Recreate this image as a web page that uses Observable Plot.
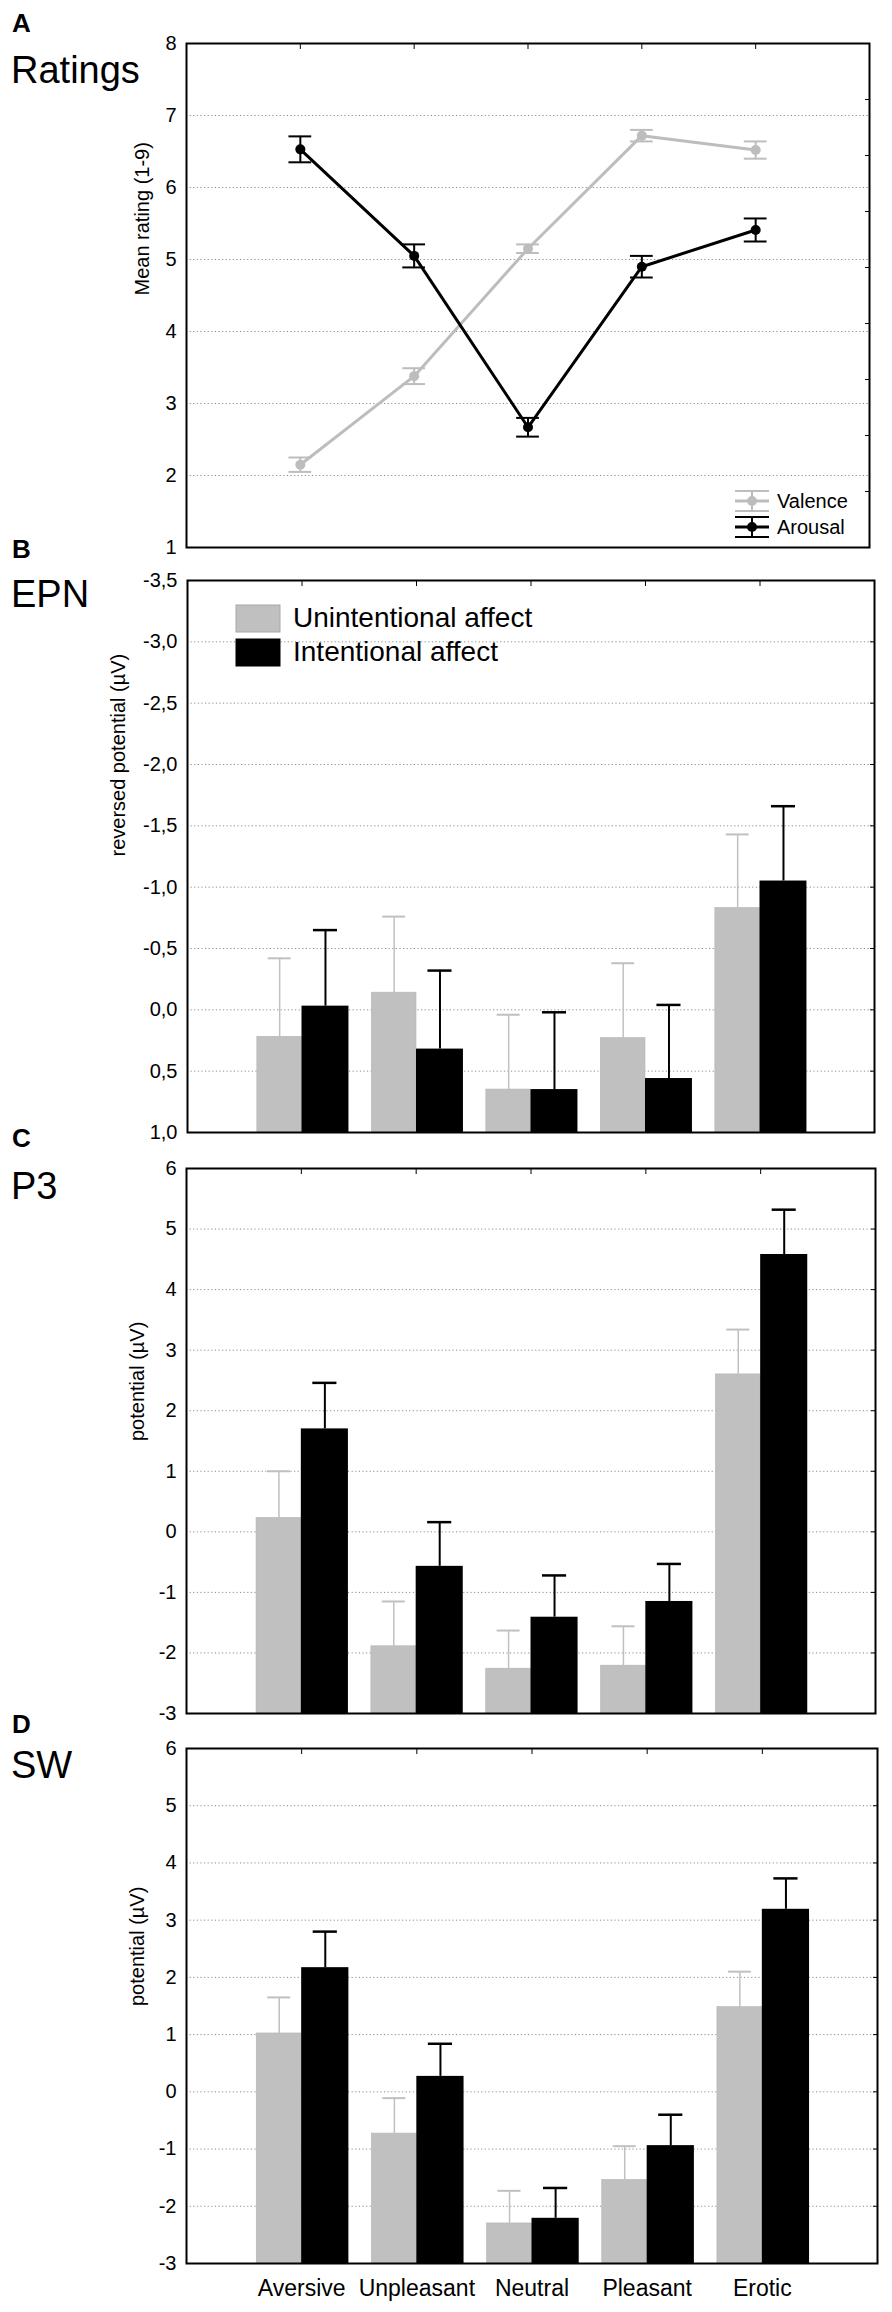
<!DOCTYPE html>
<html>
<head>
<meta charset="utf-8">
<script src="https://cdn.jsdelivr.net/npm/d3@7"></script>
<script src="https://cdn.jsdelivr.net/npm/@observablehq/plot@0.6"></script>
<style>
  body { margin: 0; background: #fff; }
  #wrap { position: relative; width: 892px; height: 2312px; font-family: "Liberation Sans", Arial, sans-serif; background: #fff; }
  #wrap > svg { position: absolute; left: 0; }
</style>
</head>
<body>
<div id="wrap"></div>
<script>
// ---------- data ----------
const categories = ["Aversive", "Unpleasant", "Neutral", "Pleasant", "Erotic"];

// Panel A: ratings
const valenceMean = [2.15, 3.38, 5.15, 6.72, 6.52];
const valenceSE   = [0.10, 0.11, 0.06, 0.08, 0.12];
const arousalMean = [6.53, 5.05, 2.67, 4.90, 5.41];
const arousalSE   = [0.18, 0.16, 0.13, 0.15, 0.16];

// Panel B: EPN (reversed potential, µV)
const epnUnintMean = [0.22, -0.14, 0.65, 0.23, -0.83];
const epnUnintSE   = [0.64, 0.62, 0.61, 0.61, 0.60];
const epnIntMean   = [-0.03, 0.32, 0.65, 0.56, -1.05];
const epnIntSE     = [0.62, 0.64, 0.63, 0.60, 0.61];

// Panel C: P3 (µV)
const p3UnintMean = [0.23, -1.89, -2.26, -2.21, 2.60];
const p3UnintSE   = [0.77, 0.74, 0.63, 0.65, 0.74];
const p3IntMean   = [1.70, -0.57, -1.41, -1.15, 4.58];
const p3IntSE     = [0.76, 0.73, 0.69, 0.62, 0.74];

// Panel D: SW (µV)
const swUnintMean = [1.02, -0.73, -2.30, -1.54, 1.48];
const swUnintSE   = [0.63, 0.62, 0.57, 0.59, 0.62];
const swIntMean   = [2.17, 0.27, -2.21, -0.94, 3.19];
const swIntSE     = [0.63, 0.57, 0.53, 0.54, 0.54];

// tick labels
const ratingTicks = [1, 2, 3, 4, 5, 6, 7, 8];
const epnTicks = [-3.5, -3.0, -2.5, -2.0, -1.5, -1.0, -0.5, 0.0, 0.5, 1.0];
const potTicks = [-3, -2, -1, 0, 1, 2, 3, 4, 5, 6];

// ---------- helpers ----------
const wrap = document.getElementById("wrap");
const FONT = "Liberation Sans, Arial, sans-serif";
const GRAY = "#c0c0c0";
const commaFmt = d3.formatLocale({decimal: ",", thousands: ".", grouping: [3], currency: ["", ""], minus: "-"}).format(".1f");
const intFmt = d => String(d);
const catIdx = categories.map((c, k) => k + 1);

function place(svg, top) {
  svg.style.top = top + "px";
  wrap.appendChild(svg);
}

function gridMarks(ticks) {
  const inner = ticks.slice(1, -1);
  return [
    Plot.gridY(inner, {stroke: "#8c8c8c", strokeOpacity: 1, strokeWidth: 1, strokeDasharray: "1.2,2.4"})
  ];
}

// ---------- Panel A ----------
{
  const val = categories.map((c, k) => ({i: k + 1, m: valenceMean[k], se: valenceSE[k]}));
  const aro = categories.map((c, k) => ({i: k + 1, m: arousalMean[k], se: arousalSE[k]}));
  const rightTicks = d3.range(1, 9).map(k => 1 + k * 7 / 9);
  const seriesMarks = (data, color, lw) => [
    Plot.line(data, {x: "i", y: "m", stroke: color, strokeWidth: lw}),
    Plot.ruleX(data, {x: "i", y1: d => d.m - d.se, y2: d => d.m + d.se, stroke: color, strokeWidth: 2}),
    Plot.ruleY(data, {y: d => d.m + d.se, x1: d => d.i - 0.1, x2: d => d.i + 0.1, stroke: color, strokeWidth: 2}),
    Plot.ruleY(data, {y: d => d.m - d.se, x1: d => d.i - 0.1, x2: d => d.i + 0.1, stroke: color, strokeWidth: 2}),
    Plot.dot(data, {x: "i", y: "m", r: 5, fill: color})
  ];
  const svg = Plot.plot({
    width: 892, height: 560,
    marginTop: 43, marginBottom: 13, marginLeft: 186, marginRight: 23,
    style: {fontFamily: FONT, fontSize: "20px", color: "black", background: "transparent"},
    x: {domain: [0, 6], axis: null},
    y: {domain: [1, 8], axis: null},
    marks: [
      ...gridMarks(ratingTicks),
      Plot.axisY(ratingTicks, {anchor: "left", tickSize: 0, tickPadding: 10, tickFormat: intFmt, fontSize: 20, label: null}),
      Plot.axisY(rightTicks, {anchor: "right", tickSize: -5, tickFormat: () => "", label: null}),
      Plot.axisX(catIdx, {anchor: "top", tickSize: -5, tickFormat: () => "", label: null}),
      Plot.text(["Mean rating (1-9)"], {frameAnchor: "left", dx: -44, rotate: -90, fontSize: 20, fill: "black"}),
      ...seriesMarks(val, "#bdbdbd", 3),
      ...seriesMarks(aro, "black", 3),
      Plot.frame({stroke: "black", strokeWidth: 2})
    ]
  });
  place(svg, 0);
}

// ---------- bar panels ----------
function barPanel(o) {
  const rows = categories.map((c, k) => ({
    i: k + 1, u: o.unint[k], uSE: o.unintSE[k], t: o.inten[k], tSE: o.intenSE[k]
  }));
  const base = o.domain[0];
  const up = o.up;
  const gx = d => d.i - 0.195;
  const bx = d => d.i + 0.205;
  const marks = [
    ...gridMarks(o.ticks),
    Plot.axisY(o.ticks, {anchor: "left", tickSize: 0, tickPadding: 10, tickFormat: o.fmt, fontSize: 20, label: null}),
    Plot.axisY(o.ticks.slice(1, -1), {anchor: "right", tickSize: -5, tickFormat: () => "", label: null}),
    Plot.axisX(catIdx, {anchor: "top", tickSize: -5, tickFormat: () => "", label: null}),
    Plot.text([o.label], {frameAnchor: "left", dx: o.labelDx, rotate: -90, fontSize: 20, fill: "black"}),
    Plot.rectY(rows, {x1: d => d.i - 0.39, x2: d => d.i, y1: d => base, y2: "u", fill: GRAY, stroke: "#b4b4b4", strokeWidth: 0.6}),
    Plot.rectY(rows, {x1: d => d.i, x2: d => d.i + 0.41, y1: d => base, y2: "t", fill: "black"}),
    Plot.ruleX(rows, {x: gx, y1: "u", y2: d => d.u + up * d.uSE, stroke: GRAY, strokeWidth: 1.5}),
    Plot.ruleY(rows, {y: d => d.u + up * d.uSE, x1: d => gx(d) - 0.1, x2: d => gx(d) + 0.1, stroke: GRAY, strokeWidth: 2}),
    Plot.ruleX(rows, {x: bx, y1: "t", y2: d => d.t + up * d.tSE, stroke: "black", strokeWidth: 2}),
    Plot.ruleY(rows, {y: d => d.t + up * d.tSE, x1: d => bx(d) - 0.105, x2: d => bx(d) + 0.105, stroke: "black", strokeWidth: 2.5}),
    Plot.frame({stroke: "black", strokeWidth: 2})
  ];
  if (o.xLabels) {
    marks.push(Plot.axisX(catIdx, {anchor: "bottom", tickSize: 0, tickPadding: 16, tickFormat: i => categories[i - 1], fontSize: 23, label: null}));
  }
  const svg = Plot.plot({
    width: 892, height: o.height,
    marginTop: o.mt, marginBottom: o.mb, marginLeft: o.ml, marginRight: o.mr,
    style: {fontFamily: FONT, fontSize: "20px", color: "black", background: "transparent"},
    x: {domain: [0, 6], axis: null},
    y: {domain: o.domain, axis: null},
    marks
  });
  place(svg, o.top);
}

barPanel({
  top: 560, height: 590, mt: 20, mb: 18, ml: 187, mr: 18,
  domain: [1.0, -3.5], up: -1, ticks: epnTicks, fmt: commaFmt,
  unint: epnUnintMean, unintSE: epnUnintSE, inten: epnIntMean, intenSE: epnIntSE,
  label: "reversed potential (µV)", labelDx: -69
});
barPanel({
  top: 1150, height: 580, mt: 18, mb: 17, ml: 186, mr: 17,
  domain: [-3, 6], up: 1, ticks: potTicks, fmt: intFmt,
  unint: p3UnintMean, unintSE: p3UnintSE, inten: p3IntMean, intenSE: p3IntSE,
  label: "potential (µV)", labelDx: -49
});
barPanel({
  top: 1730, height: 582, mt: 18, mb: 49, ml: 186, mr: 15,
  domain: [-3, 6], up: 1, ticks: potTicks, fmt: intFmt,
  unint: swUnintMean, unintSE: swUnintSE, inten: swIntMean, intenSE: swIntSE,
  label: "potential (µV)", labelDx: -49, xLabels: true
});

// ---------- titles and legends (overlay) ----------
const NS = "http://www.w3.org/2000/svg";
const ov = document.createElementNS(NS, "svg");
ov.setAttribute("width", 892);
ov.setAttribute("height", 2312);
ov.style.cssText = "position:absolute;left:0;top:0;pointer-events:none";
ov.setAttribute("font-family", FONT);
function el(tag, attrs, text) {
  const e = document.createElementNS(NS, tag);
  for (const k in attrs) e.setAttribute(k, attrs[k]);
  if (text != null) e.textContent = text;
  ov.appendChild(e);
  return e;
}
const panelLetters = ["A", "B", "C", "D"];
const panelTitles = ["Ratings", "EPN", "P3", "SW"];
const letterY = [32, 558, 1147, 1733];
const titleY = [83, 607, 1199, 1778];
panelLetters.forEach((l, k) => {
  el("text", {x: 12, y: letterY[k], "font-size": 26, "font-weight": "bold", fill: "black"}, l);
  el("text", {x: 11, y: titleY[k], "font-size": 38, fill: "black"}, panelTitles[k]);
});

// legend A
const legA = [{name: "Valence", color: "#bdbdbd", y: 501}, {name: "Arousal", color: "black", y: 527}];
legA.forEach(s => {
  el("line", {x1: 735, x2: 769, y1: s.y, y2: s.y, stroke: s.color, "stroke-width": 3});
  el("line", {x1: 735, x2: 769, y1: s.y - 10, y2: s.y - 10, stroke: s.color, "stroke-width": 2});
  el("line", {x1: 735, x2: 769, y1: s.y + 10, y2: s.y + 10, stroke: s.color, "stroke-width": 2});
  el("line", {x1: 752, x2: 752, y1: s.y - 10, y2: s.y + 10, stroke: s.color, "stroke-width": 2});
  el("circle", {cx: 752, cy: s.y, r: 5, fill: s.color});
  el("text", {x: 777, y: s.y + 7, "font-size": 20, fill: "black"}, s.name);
});

// legend B
const legB = [{name: "Unintentional affect", color: GRAY, stroke: "#a8a8a8", y: 605}, {name: "Intentional affect", color: "black", stroke: "black", y: 639}];
legB.forEach(s => {
  el("rect", {x: 236, y: s.y, width: 44, height: 27, fill: s.color, stroke: s.stroke, "stroke-width": 1});
  el("text", {x: 293, y: s.y + 22, "font-size": 28, fill: "black"}, s.name);
});

wrap.appendChild(ov);
</script>
</body>
</html>
